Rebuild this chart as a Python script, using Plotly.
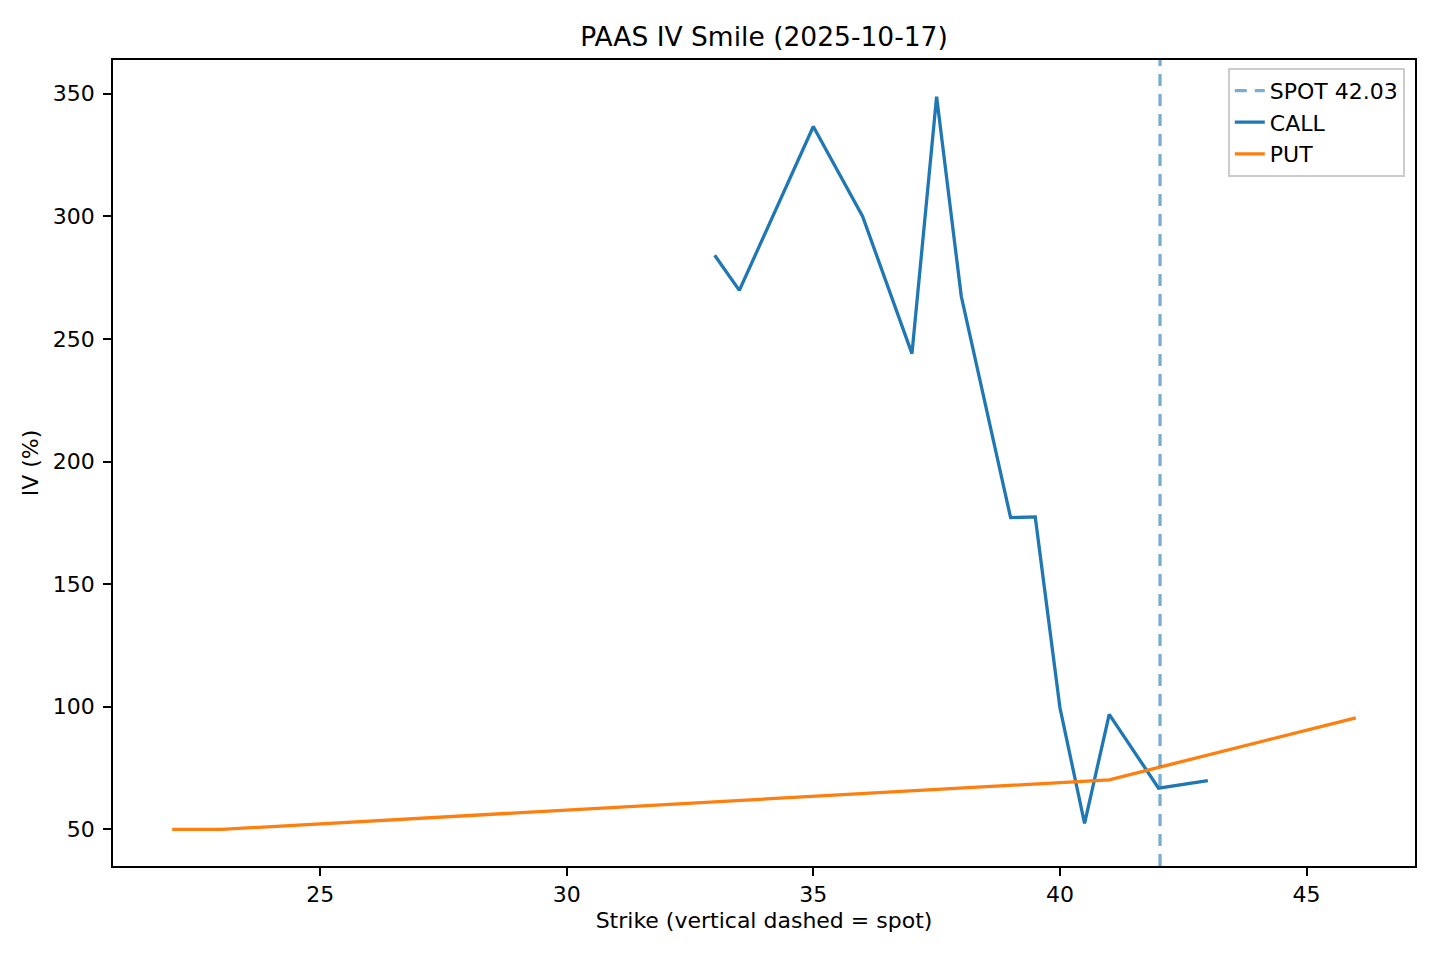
import plotly.graph_objects as go

# --- data ---
TICKER = "PAAS"
EXPIRY = "2025-10-17"
SPOT = 42.03

call_strikes = [33, 33.5, 35, 36, 37, 37.5, 38, 39, 39.5, 40, 40.5, 41, 42, 43]
call_iv = [284.1, 269.8, 336.6, 299.9, 244.0, 348.8, 267.4, 177.1, 177.4, 99.7, 52.4, 96.9, 66.8, 69.9]

put_strikes = [22, 23, 41, 46]
put_iv = [50.0, 50.0, 70.2, 95.5]

C_CALL = "#1f77b4"
C_PUT = "#ff7f0e"
FONT = "DejaVu Sans"

# matplotlib-like 5% padding on the data limits
all_x = call_strikes + put_strikes + [SPOT]
all_y = call_iv + put_iv
xpad = (max(all_x) - min(all_x)) * 0.05
ypad = (max(all_y) - min(all_y)) * 0.05
xrange_ = [min(all_x) - xpad, max(all_x) + xpad]
yrange_ = [min(all_y) - ypad, max(all_y) + ypad]

fig = go.Figure()

# spot marker, drawn on a hidden 0..1 axis so it spans the full height
fig.add_trace(go.Scatter(
    x=[SPOT, SPOT], y=[0, 1], yaxis="y2", mode="lines",
    name=f"SPOT {SPOT:.2f}",
    line=dict(color="rgba(31,119,180,0.6)", width=3.3, dash="12px,8px"),
))
fig.add_trace(go.Scatter(
    x=call_strikes, y=call_iv, mode="lines", name="CALL",
    line=dict(color=C_CALL, width=3.3),
))
fig.add_trace(go.Scatter(
    x=put_strikes, y=put_iv, mode="lines", name="PUT",
    line=dict(color=C_PUT, width=3.3),
))

axis_style = dict(
    showline=True, linecolor="black", linewidth=1.8, mirror=True,
    ticks="outside", ticklen=8, tickwidth=1.8, tickcolor="black",
    showgrid=False, zeroline=False,
    tickfont=dict(family=FONT, size=22, color="black"),
)

# the page body has an 8px margin, so the figure is sized to fit 1440x960
W, H = 1432, 952
fig.update_layout(
    width=W, height=H,
    paper_bgcolor="white", plot_bgcolor="white",
    margin=dict(l=105, r=25, t=52, b=94, autoexpand=False),
    font=dict(family=FONT, size=22, color="black"),
    title=dict(
        text=f"{TICKER} IV Smile ({EXPIRY})",
        x=0.5, xanchor="center", xref="paper",
        y=1 - 29 / H, yanchor="middle", yref="container",
        font=dict(family=FONT, size=26.5, color="black"),
    ),
    xaxis=dict(
        axis_style, range=xrange_, tickvals=[25, 30, 35, 40, 45],
        title=dict(text="Strike (vertical dashed = spot)", standoff=6,
                   font=dict(family=FONT, size=22)),
    ),
    yaxis=dict(
        axis_style, range=yrange_, tickvals=[50, 100, 150, 200, 250, 300, 350],
        ticklabelstandoff=4,
        title=dict(text="IV (%)", standoff=8, font=dict(family=FONT, size=22)),
    ),
    yaxis2=dict(overlaying="y", range=[0, 1], visible=False, fixedrange=True),
    legend=dict(
        x=(1397 - 105) / 1302, y=(858 - 60) / 806,
        xanchor="right", yanchor="top",
        bgcolor="rgba(255,255,255,0.8)", bordercolor="#cccccc", borderwidth=1.8,
        font=dict(family=FONT, size=22, color="black"),
    ),
    showlegend=True,
)

fig.write_html("out.html")
